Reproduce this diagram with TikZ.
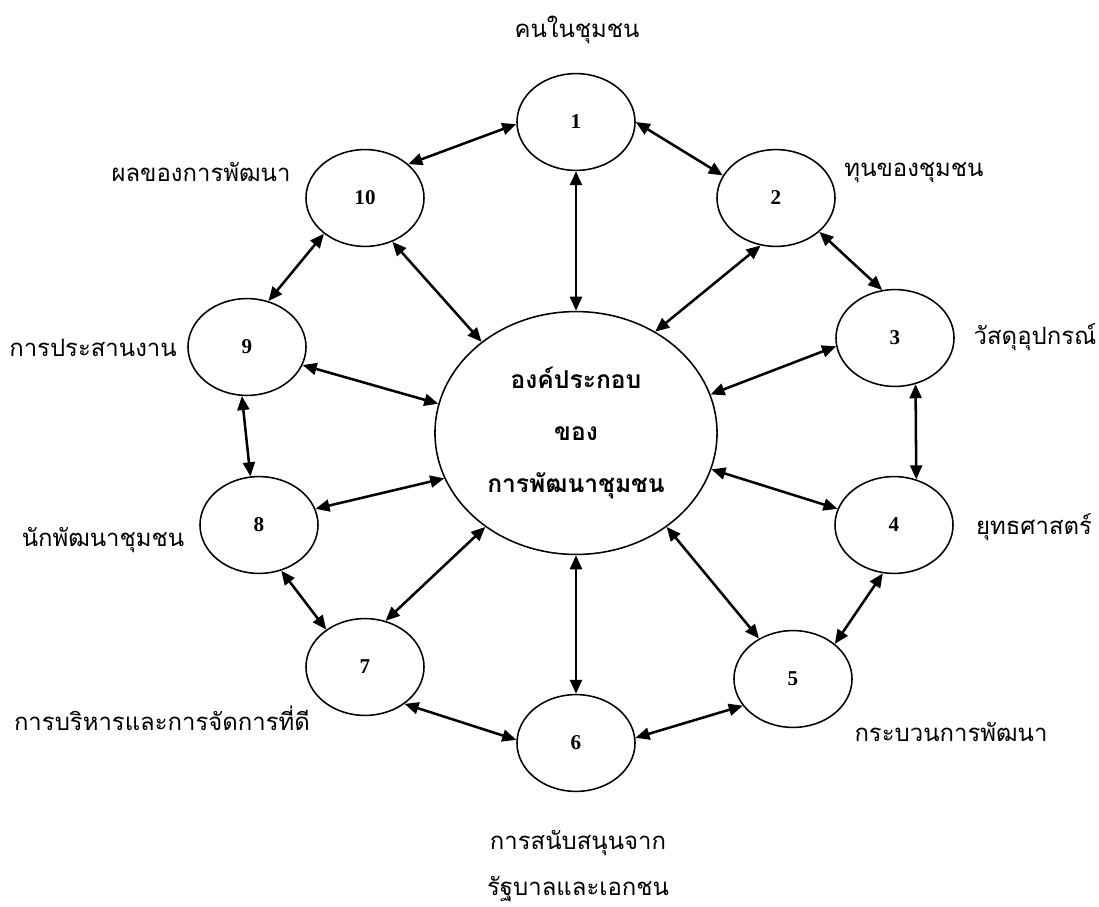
\documentclass[tikz,border=0pt]{standalone}
\usepackage{fontspec}
\setmainfont{Liberation Serif}
\newfontfamily\thaifont[Script=Thai]{Loma}
\usetikzlibrary{shapes.geometric,arrows.meta}

\begin{document}
\begin{tikzpicture}[x=0.025cm, y=-0.025cm,
    part/.style = {ellipse, draw, line width=1.1pt, inner sep=0pt,
                   minimum width=2.95cm, minimum height=2.42cm,
                   font=\fontsize{15}{18}\selectfont\bfseries},
    hub/.style = {ellipse, draw, line width=1.1pt, inner sep=0pt, align=center,
                  minimum width=7.05cm, minimum height=6.07cm,
                  font=\thaifont\fontsize{17.5}{37}\selectfont\bfseries},
    caption/.style = {font=\thaifont\fontsize{17}{33}\selectfont, align=center},
    link/.style = {{Triangle[length=10pt,width=8.5pt]}-{Triangle[length=10pt,width=8.5pt]},
                   line width=1.8pt}]
  \useasboundingbox (0, 0) rectangle (1099, 907);

  % Centre.
  \node at (576, 433) [hub, name=Components] {องค์ประกอบ\\ของ\\การพัฒนาชุมชน};

  % Elements.
  \node at (576, 122) [part, name=People] {1};
  \node at (776, 198) [part, name=Capital] {2};
  \node at (895, 338) [part, name=Materials] {3};
  \node at (894, 525) [part, name=Strategy] {4};
  \node at (793, 679) [part, name=Process] {5};
  \node at (576, 743) [part, name=Support] {6};
  \node at (365, 667) [part, name=Management] {7};
  \node at (259, 525) [part, name=Developer] {8};
  \node at (247, 347) [part, name=Coordination] {9};
  \node at (365, 198) [part, name=Outcome] {10};

  % Captions.
  \node at (577, 30) [caption, name=PeopleLabel] {คนในชุมชน};
  \node at (914, 173) [caption, name=CapitalLabel] {ทุนของชุมชน};
  \node at (1035, 337) [caption, name=MaterialsLabel] {วัสดุอุปกรณ์};
  \node at (1034, 527) [caption, name=StrategyLabel] {ยุทธศาสตร์};
  \node at (951, 732) [caption, name=ProcessLabel] {กระบวนการพัฒนา};
  \node at (578, 866) [caption, name=SupportLabel] {การสนับสนุนจาก\\รัฐบาลและเอกชน};
  \node at (162, 718) [caption, name=ManagementLabel] {การบริหารและการจัดการที่ดี};
  \node at (103, 540) [caption, name=DeveloperLabel] {นักพัฒนาชุมชน};
  \node at (93, 348) [caption, name=CoordinationLabel] {การประสานงาน};
  \node at (201, 172) [caption, name=OutcomeLabel] {ผลของการพัฒนา};

  % Links to the centre.
  \draw [link] (People.south) to (Components.north);
  \draw [link] (Capital.252) to (Components.52);
  \draw [link] (Materials.188) to (Components.16);
  \draw [link] (Strategy.164) to (Components.-15);
  \draw [link] (Process.130) to (Components.-46);
  \draw [link] (Support.north) to (Components.south);
  \draw [link] (Management.66) to (Components.226);
  \draw [link] (Developer.16) to (Components.199);
  \draw [link] (Coordination.-18) to (Components.168);
  \draw [link] (Outcome.302) to (Components.136);

  % Links round the ring.
  \draw [link] (People.0) to (Capital.157);
  \draw [link] (Capital.-38) to (Materials.105);
  \draw [link] (Materials.-66) to (Strategy.64);
  \draw [link] (Strategy.257) to (Process.40);
  \draw [link] (Process.208) to (Support.5);
  \draw [link] (Support.177) to (Management.317);
  \draw [link] (Management.136) to (Developer.-64);
  \draw [link] (Developer.100) to (Coordination.264);
  \draw [link] (Coordination.65) to (Outcome.221);
  \draw [link] (Outcome.38) to (People.182);
\end{tikzpicture}
\end{document}
